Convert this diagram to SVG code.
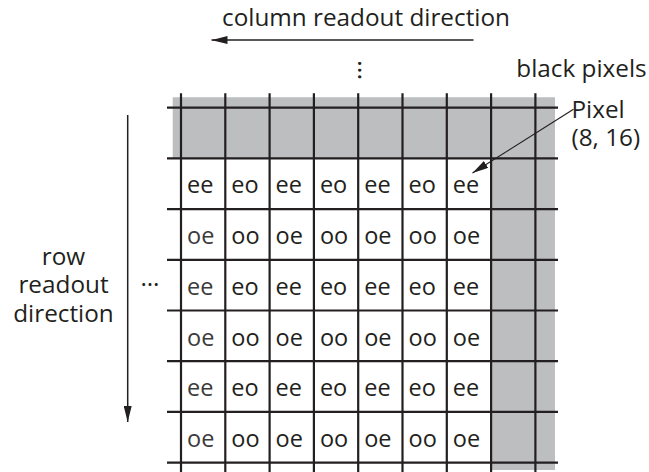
<svg xmlns="http://www.w3.org/2000/svg" width="649" height="472" viewBox="0 0 649 472">
<style>
text{font-family:"Open Sans","Noto Sans","Liberation Sans",sans-serif;fill:#231f20}
.lbl{font-size:24.3px}
.c{font-size:23.5px}
.g{fill:#3d3a3b}
.gl{stroke:#231f20;stroke-width:2.2;fill:none}
.ar{stroke:#231f20;stroke-width:1.5;fill:none}
</style>
<defs>
<marker id="ah" viewBox="0 0 16 8" refX="16" refY="4" markerWidth="16" markerHeight="8" markerUnits="userSpaceOnUse" orient="auto">
<path d="M0,0 L16,4 L0,8 Z" fill="#231f20"/>
</marker>
</defs>
<g id="background">
<rect x="0" y="0" width="649" height="472" fill="#fff"/>
<path d="M172.7,97.3 H555 V470 H491.1 V158.4 H172.7 Z" fill="#bdbec0"/>
</g>
<g id="grid" class="gl">
<path d="M181,93.3V472M225.3,93.3V472M269.6,93.3V472M313.9,93.3V472M358.2,93.3V472M402.5,93.3V472M446.8,93.3V472M491.1,93.3V472M535.4,93.3V472"/>
<path d="M167,107.7H558M167,158.4H558M167,209.1H558M167,259.8H558M167,310.5H558M167,361.2H558M167,411.9H558M167,462.6H558"/>
</g>
<g id="cells" class="c">
<g id="row1"><text x="187" y="193.4">ee</text><text x="231.3" y="193.4">eo</text><text x="275.6" y="193.4">ee</text><text x="319.9" y="193.4">eo</text><text x="364.2" y="193.4">ee</text><text x="408.5" y="193.4">eo</text><text x="452.8" y="193.4">ee</text></g>
<g id="row2"><text class="g" x="187" y="244.1">oe</text><text x="231.3" y="244.1">oo</text><text x="275.6" y="244.1">oe</text><text x="319.9" y="244.1">oo</text><text x="364.2" y="244.1">oe</text><text x="408.5" y="244.1">oo</text><text x="452.8" y="244.1">oe</text></g>
<g id="row3"><text class="g" x="187" y="294.8">ee</text><text x="231.3" y="294.8">eo</text><text x="275.6" y="294.8">ee</text><text x="319.9" y="294.8">eo</text><text x="364.2" y="294.8">ee</text><text x="408.5" y="294.8">eo</text><text x="452.8" y="294.8">ee</text></g>
<g id="row4"><text class="g" x="187" y="345.5">oe</text><text x="231.3" y="345.5">oo</text><text x="275.6" y="345.5">oe</text><text x="319.9" y="345.5">oo</text><text x="364.2" y="345.5">oe</text><text x="408.5" y="345.5">oo</text><text x="452.8" y="345.5">oe</text></g>
<g id="row5"><text class="g" x="187" y="396.2">ee</text><text x="231.3" y="396.2">eo</text><text x="275.6" y="396.2">ee</text><text x="319.9" y="396.2">eo</text><text x="364.2" y="396.2">ee</text><text x="408.5" y="396.2">eo</text><text x="452.8" y="396.2">ee</text></g>
<g id="row6"><text class="g" x="187" y="446.9">oe</text><text x="231.3" y="446.9">oo</text><text x="275.6" y="446.9">oe</text><text x="319.9" y="446.9">oo</text><text x="364.2" y="446.9">oe</text><text x="408.5" y="446.9">oo</text><text x="452.8" y="446.9">oe</text></g>
</g>
<g id="title"><text class="lbl" x="366" y="26" text-anchor="middle">column readout direction</text></g>
<g id="black-pixels"><text class="lbl" x="581.5" y="77" text-anchor="middle">black pixels</text></g>
<g id="pixel-label"><text class="lbl" x="571.5" y="118">Pixel<tspan x="571.5" dy="28">(8, 16)</tspan></text></g>
<g id="row-label"><text class="lbl" text-anchor="middle" x="63.5" y="265">row<tspan x="63.5" dy="28.3">readout</tspan><tspan x="63.5" dy="28.3">direction</tspan></text></g>
<g id="ellipsis-v"><text class="lbl" x="357.5" y="70" text-anchor="middle" transform="rotate(90 357.5 70)" style="font-size:26px">…</text></g>
<g id="ellipsis-h"><text class="lbl" x="150" y="285.5" text-anchor="middle">…</text></g>
<g id="connectors">
<line class="ar" x1="473.5" y1="40" x2="211.5" y2="40" marker-end="url(#ah)"/>
<line class="ar" x1="127.7" y1="115" x2="127.7" y2="422" marker-end="url(#ah)"/>
<line class="ar" x1="573.5" y1="109.3" x2="472.5" y2="173" style="stroke-width:1.2" marker-end="url(#ah)"/>
</g>
</svg>
